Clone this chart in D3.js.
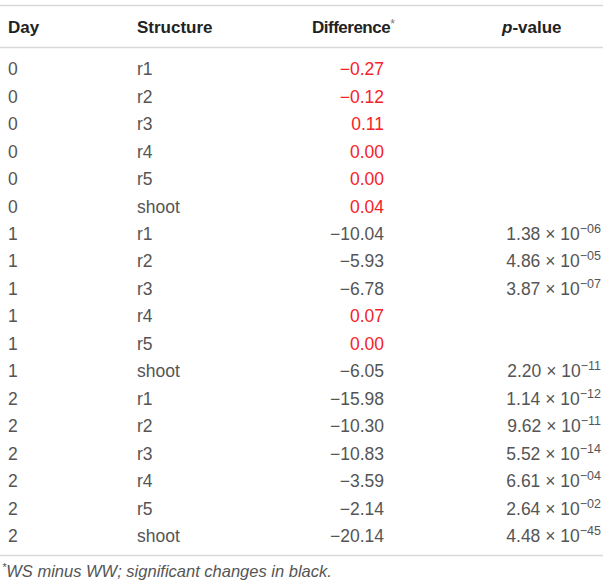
<!DOCTYPE html>
<html>
<head>
<meta charset="utf-8">
<script src="https://cdn.jsdelivr.net/npm/d3@7"></script>
<style>
  body { margin: 0; background: #fff; }
  svg text { font-family: "Liberation Sans", Arial, sans-serif; }
</style>
</head>
<body>
<svg id="chart"></svg>
<script>
// table values
const days = [0, 0, 0, 0, 0, 0, 1, 1, 1, 1, 1, 1, 2, 2, 2, 2, 2, 2];
const structures = ['r1', 'r2', 'r3', 'r4', 'r5', 'shoot',
  'r1', 'r2', 'r3', 'r4', 'r5', 'shoot',
  'r1', 'r2', 'r3', 'r4', 'r5', 'shoot'];
const differences = [-0.27, -0.12, 0.11, 0.00, 0.00, 0.04,
  -10.04, -5.93, -6.78, 0.07, 0.00, -6.05,
  -15.98, -10.30, -10.83, -3.59, -2.14, -20.14];
// p-values as mantissa x 10^exponent (null = not significant)
const pMantissa = [null, null, null, null, null, null,
  1.38, 4.86, 3.87, null, null, 2.20,
  1.14, 9.62, 5.52, 6.61, 2.64, 4.48];
const pExponent = [null, null, null, null, null, null,
  -6, -5, -7, null, null, -11,
  -12, -11, -14, -4, -2, -45];
const headers = ['Day', 'Structure', 'Difference', 'p-value'];
const footnote = 'WS minus WW; significant changes in black.';

const width = 610, height = 588;
const rows = d3.range(differences.length);

const svg = d3.select('#chart').attr('width', width).attr('height', height);

// row centres ~69 .. ~535
const y = d3.scaleBand().domain(rows).range([55.3, 549.4]);
const fmt = d3.format('.2f');
const expFmt = e => '\u2212' + d3.format('02d')(Math.abs(e));

const grey = '#555';
const red = '#f5222a';

// rules
const rule = yy => svg.append('line')
  .attr('x1', 0).attr('x2', 603).attr('y1', yy).attr('y2', yy)
  .attr('stroke', '#d9d9d9').attr('stroke-width', 1.5);
rule(5.5);
rule(47.5);
rule(555.5);

// header
const head = svg.append('g').attr('font-size', 17).attr('font-weight', 'bold').attr('fill', '#222');
head.append('text').attr('x', 8).attr('y', 33).text(headers[0]);
head.append('text').attr('x', 137).attr('y', 33).text(headers[1]);
const dh = head.append('text').attr('x', 312).attr('y', 33);
dh.append('tspan').attr('letter-spacing', -0.5).text(headers[2]);
dh.append('tspan').attr('font-weight', 'normal').attr('font-size', 12).attr('dy', -5).attr('fill', '#777').text('*');
const ph = head.append('text').attr('x', 502).attr('y', 33);
ph.append('tspan').attr('font-style', 'italic').text('p');
ph.append('tspan').text('-value');

// body
const body = svg.append('g').attr('font-size', 17.5).attr('fill', grey);
const row = body.selectAll('g.row').data(rows).join('g')
  .attr('class', 'row')
  .attr('transform', i => `translate(0,${y(i) + y.bandwidth() / 2 + 6.3})`);

row.append('text').attr('x', 8).text(i => days[i]);
row.append('text').attr('x', 137).text(i => structures[i]);
row.append('text').attr('x', 384).attr('text-anchor', 'end')
  .attr('fill', i => pMantissa[i] == null ? red : grey)
  .text(i => fmt(differences[i]));

const pv = row.filter(i => pMantissa[i] != null)
  .append('text').attr('x', 601).attr('text-anchor', 'end');
pv.append('tspan').text(i => fmt(pMantissa[i]) + ' \u00d7 10');
pv.append('tspan').attr('font-size', 12.5).attr('dy', -7).text(i => expFmt(pExponent[i]));

// footnote
const fn = svg.append('text').attr('x', 2).attr('y', 577)
  .attr('font-size', 16.5).attr('font-style', 'italic').attr('fill', grey);
fn.append('tspan').attr('font-size', 11).attr('dy', -6).text('*');
fn.append('tspan').attr('dy', 6).text(footnote);
</script>
</body>
</html>
